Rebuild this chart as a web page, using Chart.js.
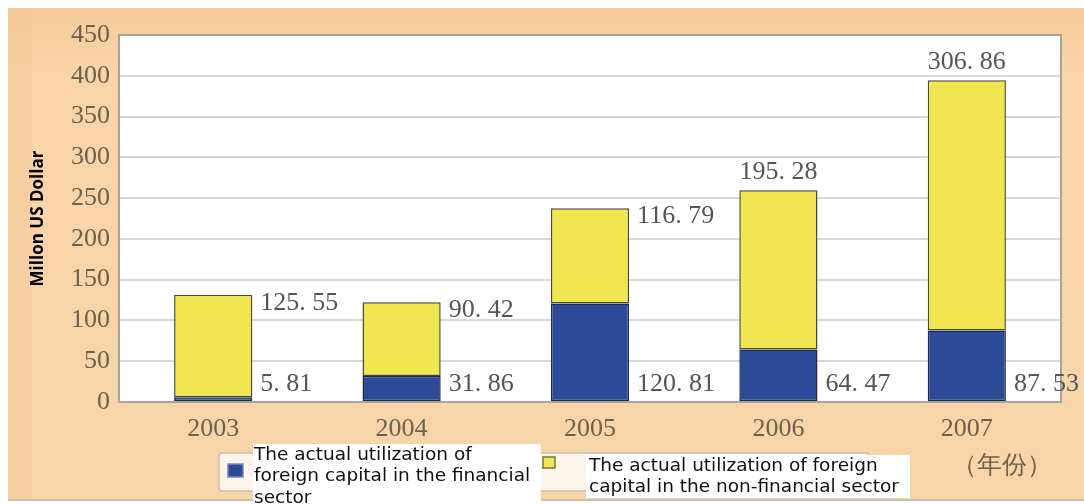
<!DOCTYPE html>
<html><head><meta charset="utf-8">
<script src="https://cdn.jsdelivr.net/npm/chart.js@4"></script>
<style>
html,body{margin:0;padding:0;background:#fff;overflow:hidden}
#wrap{position:relative;width:1084px;height:504px}
canvas{display:block}
</style></head>
<body><div id="wrap"><canvas id="c" width="1084" height="504"></canvas></div>
<script>
// ---- data ----
const years = ['2003', '2004', '2005', '2006', '2007'];
const financial = [5.81, 31.86, 120.81, 64.47, 87.53];
const nonFinancial = [125.55, 90.42, 116.79, 195.28, 306.86];
const legendFinancial = ['The actual utilization of', 'foreign capital in the financial', 'sector'];
const legendNonFinancial = ['The actual utilization of foreign', 'capital in the non-financial sector'];
const yTitle = 'Millon US Dollar';
const yearUnit = '（年份）';
const yMin = 0, yMax = 450, yStep = 50;
// label placement per dataset (style, not data)
const placeFinancial = ['rightBottom', 'rightBottom', 'rightBottom', 'rightBottom', 'rightBottom'];
const placeNonFinancial = ['rightTop', 'rightTop', 'rightTop', 'top', 'top'];

const BLUE = '#2c4a98', YELLOW = '#f1e552', TICK = '#6e604c';
const SERIF = '"Liberation Serif", "DejaVu Serif", serif';

function fmt(v){ return v.toFixed(2).replace('.', '. '); }

const bgPlugin = {
  id: 'bg',
  beforeDraw(chart){
    const ctx = chart.ctx, a = chart.chartArea;
    ctx.save();
    ctx.fillStyle = '#fff';
    ctx.fillRect(0, 0, chart.width, chart.height);
    const g = ctx.createLinearGradient(0, 8, 0, 500);
    g.addColorStop(0, '#f5cb9b');
    g.addColorStop(0.12, '#f8d4a8');
    g.addColorStop(1, '#f8d5a9');
    ctx.fillStyle = g;
    ctx.fillRect(8, 8, chart.width - 8, 492);
    ctx.fillStyle = 'rgba(235,190,140,0.25)';
    ctx.fillRect(8, 8, 24, 492);
    ctx.fillStyle = '#c9bfb4';
    ctx.fillRect(8, 499, chart.width - 8, 2);
    ctx.fillStyle = '#ffffff';
    ctx.fillRect(a.left, a.top, a.right - a.left, a.bottom - a.top);
    ctx.restore();
  },
  afterDatasetsDraw(chart){
    const ctx = chart.ctx, a = chart.chartArea;
    ctx.save();
    ctx.strokeStyle = '#a9a39b';
    ctx.lineWidth = 2;
    ctx.strokeRect(a.left, a.top, a.right - a.left, a.bottom - a.top);
    ctx.restore();
  }
};

const labelPlugin = {
  id: 'valueLabels',
  afterDraw(chart){
    const ctx = chart.ctx;
    const zeroY = chart.scales.y.getPixelForValue(0);
    const places = [placeFinancial, placeNonFinancial];
    ctx.save();
    ctx.font = '26px ' + SERIF;
    ctx.fillStyle = '#555';
    ctx.textBaseline = 'middle';
    chart.data.datasets.forEach((ds, di) => {
      const meta = chart.getDatasetMeta(di);
      meta.data.forEach((bar, i) => {
        const txt = fmt(ds.data[i]);
        const p = places[di][i];
        const right = bar.x + bar.width / 2;
        if (p === 'top') {
          ctx.textAlign = 'center';
          ctx.fillText(txt, bar.x, bar.y - 18);
        } else if (p === 'rightTop') {
          ctx.textAlign = 'left';
          ctx.fillText(txt, right + 8, bar.y + 8);
        } else {
          ctx.textAlign = 'left';
          ctx.fillText(txt, right + 8, zeroY - 18);
        }
      });
    });
    ctx.restore();
  }
};

const legendPlugin = {
  id: 'customLegend',
  afterDraw(chart){
    const ctx = chart.ctx;
    const ds = chart.data.datasets;
    ctx.save();
    ctx.fillStyle = '#fbf5ec';
    ctx.strokeStyle = '#cbbfae';
    ctx.lineWidth = 1.5;
    ctx.beginPath();
    ctx.roundRect(219, 453, 650, 38, 3);
    ctx.fill(); ctx.stroke();
    // swatch 1
    ctx.fillStyle = ds[0].backgroundColor;
    ctx.strokeStyle = '#7f86a8';
    ctx.fillRect(228, 464, 15, 13);
    ctx.strokeRect(228, 464, 15, 13);
    // text box 1
    ctx.fillStyle = '#fff';
    ctx.fillRect(253, 444, 288, 60);
    ctx.font = '18.5px "DejaVu Sans", sans-serif';
    ctx.fillStyle = '#111';
    ctx.textAlign = 'left';
    ctx.textBaseline = 'middle';
    legendFinancial.forEach((t, i) => ctx.fillText(t, 254, 455 + i * 21.5));
    // swatch 2
    ctx.fillStyle = ds[1].backgroundColor;
    ctx.strokeStyle = '#6f7a3a';
    ctx.lineWidth = 1.5;
    ctx.fillRect(543, 457, 12, 11);
    ctx.strokeRect(543, 457, 12, 11);
    // text box 2
    ctx.fillStyle = '#fff';
    ctx.fillRect(586, 455, 324, 43);
    ctx.fillStyle = '#111';
    legendNonFinancial.forEach((t, i) => ctx.fillText(t, 589, 466 + i * 21));
    // year unit
    ctx.font = '25px ' + SERIF;
    ctx.fillStyle = TICK;
    ctx.fillText(yearUnit, 952, 466);
    ctx.restore();
  }
};

new Chart(document.getElementById('c'), {
  type: 'bar',
  data: {
    labels: years,
    datasets: [
      { label: legendFinancial.join(' '), data: financial, backgroundColor: BLUE,
        borderColor: '#1f2a4a', borderWidth: 1.5, borderSkipped: false },
      { label: legendNonFinancial.join(' '), data: nonFinancial, backgroundColor: YELLOW,
        borderColor: '#4a4a30', borderWidth: 1.5, borderSkipped: false }
    ]
  },
  options: {
    responsive: false,
    animation: false,
    devicePixelRatio: 1,
    layout: { padding: { left: 24, right: 23, top: 35, bottom: 62 } },
    datasets: { bar: { barPercentage: 0.415, categoryPercentage: 1 } },
    plugins: { legend: { display: false }, tooltip: { enabled: false } },
    scales: {
      x: {
        stacked: true,
        offset: true,
        grid: { display: false, drawTicks: false },
        border: { display: false },
        ticks: { font: { family: SERIF, size: 26 }, color: TICK, padding: 12 },
        afterFit(s){ s.height = 40; }
      },
      y: {
        stacked: true,
        min: yMin, max: yMax,
        grid: { color: '#d8d8d8', lineWidth: 2, drawTicks: false },
        border: { display: false },
        ticks: { stepSize: yStep, font: { family: SERIF, size: 26 }, color: TICK, padding: 9 },
        title: { display: true, text: yTitle, color: '#000',
                 font: { family: '"Open Sans", sans-serif', size: 17, weight: 'bold' },
                 padding: { top: 4, bottom: 0 } },
        afterFit(s){ s.width = 95; }
      }
    }
  },
  plugins: [bgPlugin, labelPlugin, legendPlugin]
});
</script>
</body></html>
